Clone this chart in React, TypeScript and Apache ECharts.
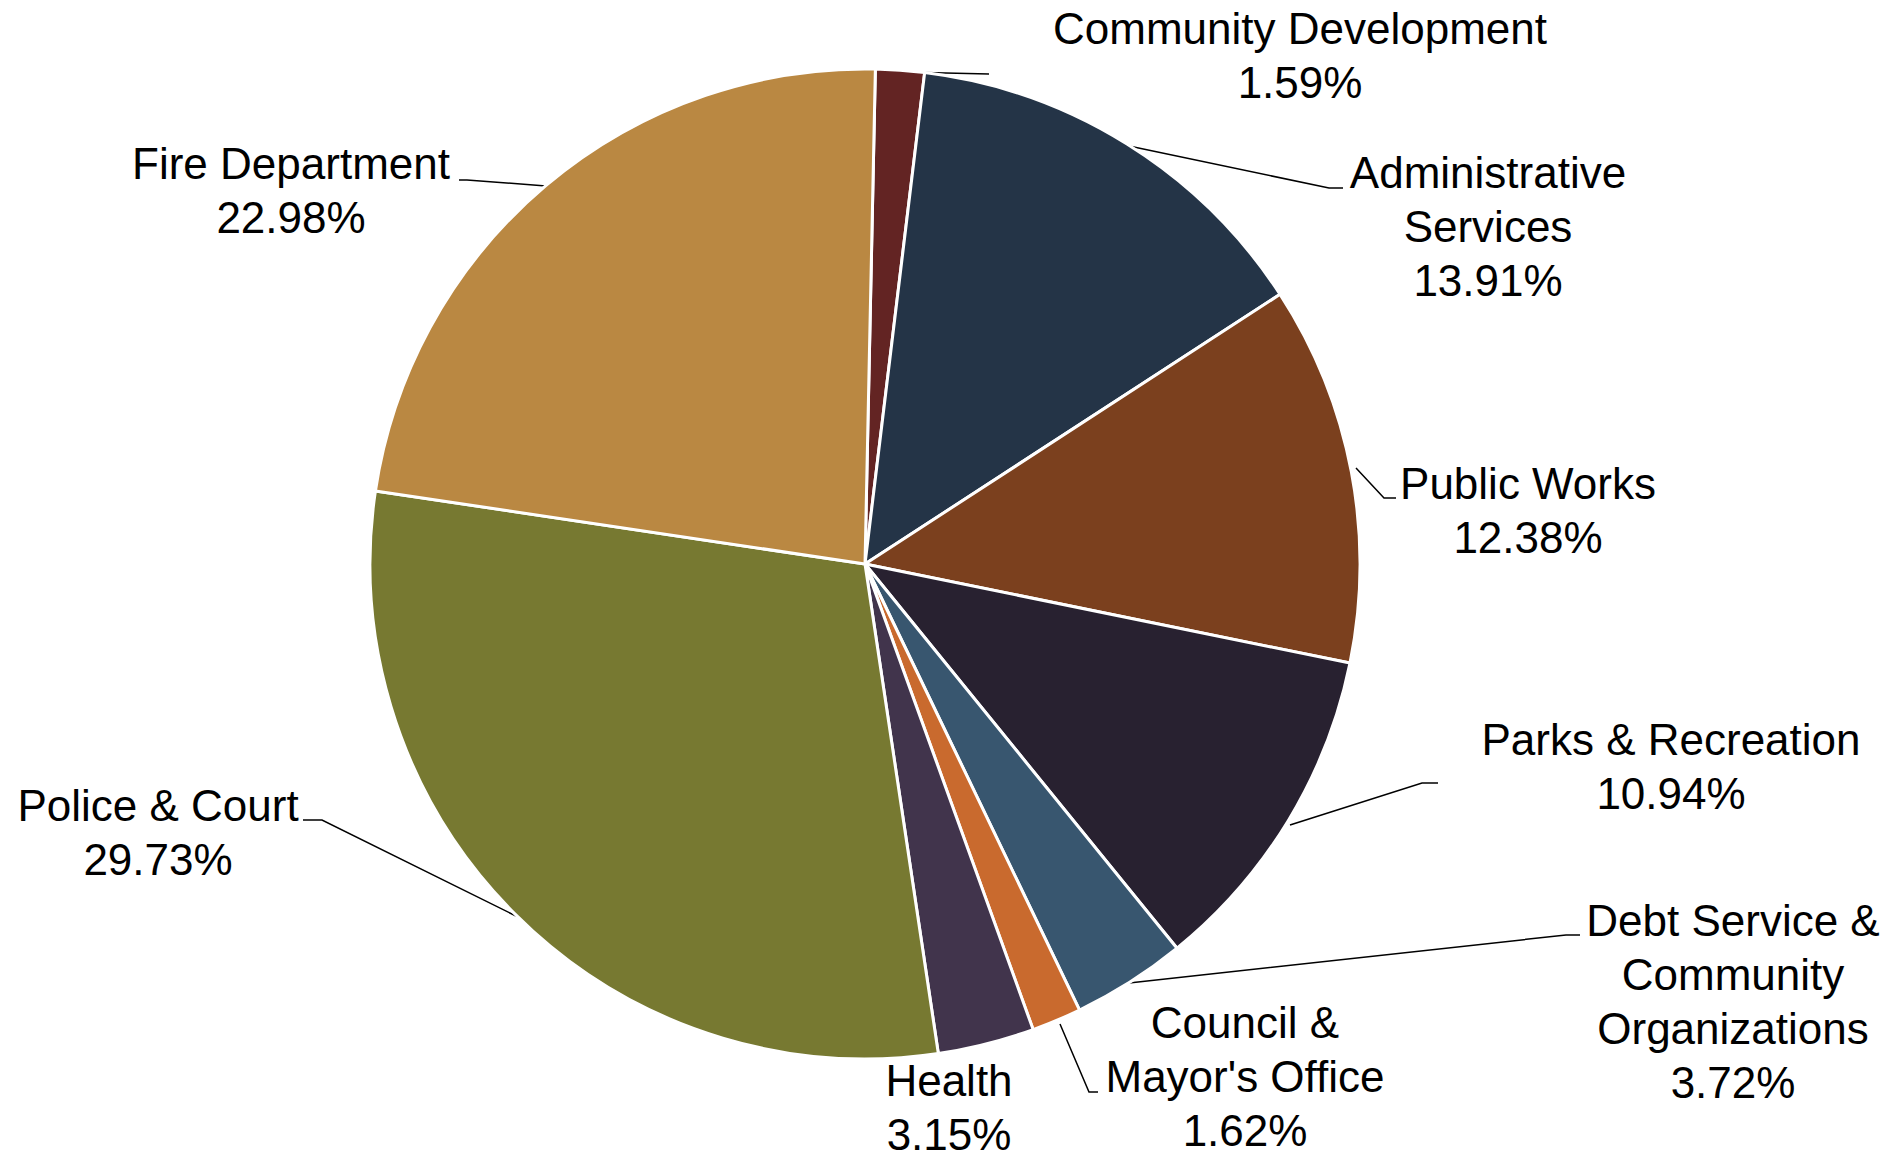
import React, { useEffect, useRef } from "react";
import * as echarts from "echarts";

const categories = [
  "Community Development",
  "Administrative\nServices",
  "Public Works",
  "Parks & Recreation",
  "Debt Service &\nCommunity\nOrganizations",
  "Council &\nMayor's Office",
  "Health",
  "Police & Court",
  "Fire Department",
];
const values = [1.59, 13.91, 12.38, 10.94, 3.72, 1.62, 3.15, 29.73, 22.98];
const colors = [
  "#632423",
  "#243447",
  "#7B401E",
  "#282130",
  "#38566F",
  "#C96A2E",
  "#41344C",
  "#777931",
  "#BA8842",
];

// label anchor (text center) and leader line points, in pixels
const labelPos: { x: number; y: number; line: number[][] | null }[] = [
  { x: 1300, y: 55, line: [[902, 72], [989, 74]] },
  { x: 1488, y: 226, line: [[1129, 146], [1329, 188], [1343, 188]] },
  { x: 1528, y: 510, line: [[1356, 468], [1384, 498], [1396, 498]] },
  { x: 1671, y: 766, line: [[1290, 825], [1422, 783], [1438, 783]] },
  { x: 1733, y: 1001, line: [[1129, 983], [1566, 935], [1580, 935]] },
  { x: 1245, y: 1076, line: [[1060, 1024], [1089, 1092], [1098, 1092]] },
  { x: 949, y: 1107, line: null },
  { x: 158, y: 832, line: [[516, 916], [322, 820], [303, 820]] },
  { x: 291, y: 190, line: [[546, 186], [467, 180], [459, 180]] },
];

export default function App() {
  const ref = useRef<HTMLDivElement>(null);
  useEffect(() => {
    document.body.style.margin = "0";
    const chart = echarts.init(ref.current!, null, { renderer: "svg" });
    chart.setOption({
      animation: false,
      backgroundColor: "#ffffff",
      series: [
        {
          type: "pie",
          center: [865, 564],
          radius: 495,
          startAngle: 88.8,
          clockwise: true,
          avoidLabelOverlap: false,
          itemStyle: { borderColor: "#ffffff", borderWidth: 3 },
          label: {
            show: true,
            color: "#000000",
            fontFamily: "Liberation Sans",
            fontSize: 44,
            lineHeight: 54,
            align: "center",
            formatter: (p: any) => `${p.name}\n${values[p.dataIndex].toFixed(2)}%`,
          },
          labelLine: {
            show: true,
            lineStyle: { color: "#000000", width: 1.5 },
          },
          labelLayout: (params: any) => {
            const lp = labelPos[params.dataIndex];
            const res: any = {
              x: lp.x,
              y: lp.y,
              align: "center",
              verticalAlign: "middle",
            };
            if (lp.line) res.labelLinePoints = lp.line;
            return res;
          },
          data: categories.map((name, i) => ({
            name,
            value: values[i],
            itemStyle: { color: colors[i] },
            labelLine: { show: labelPos[i].line !== null },
          })),
        },
      ],
    });
    return () => chart.dispose();
  }, []);
  return <div ref={ref} style={{ width: 1903, height: 1155 }} />;
}
